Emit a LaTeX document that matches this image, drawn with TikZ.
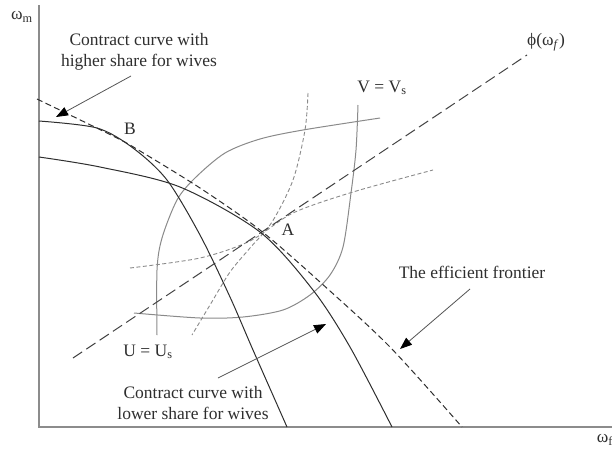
\documentclass[tikz,border=0pt]{standalone}
\usepackage{fontspec}
\setmainfont{Liberation Serif}
\usetikzlibrary{arrows.meta}
\definecolor{ink}{HTML}{2E2E2E}
\definecolor{axisgray}{HTML}{8C8C8C}
\definecolor{curvegray}{HTML}{8A8A8A}
\definecolor{pointergray}{HTML}{555555}
\begin{document}
\begin{tikzpicture}[x=1pt,y=-1pt,
  every node/.style={text=ink,font=\fontsize{17.5}{21}\selectfont,inner sep=0pt},
  axisline/.style={draw=axisgray,line width=1.1pt},
  darkcurve/.style={draw=ink,line width=1pt},
  frontier/.style={draw=ink,line width=1pt,dash pattern=on 6pt off 3.5pt},
  philine/.style={draw=ink!90,line width=1pt,dash pattern=on 11pt off 5pt},
  indiff/.style={draw=curvegray,line width=1pt},
  thindash/.style={draw=curvegray,line width=0.9pt,dash pattern=on 4pt off 2.5pt},
  pointer/.style={draw=pointergray,line width=0.8pt,-{Triangle[length=12pt,width=9pt,color=black]}}
]
\useasboundingbox (0,0) rectangle (612,453);
% axes
\coordinate (ytop) at (39,5);
\coordinate (orig) at (39,427);
\coordinate (xend) at (612,427);
\draw[axisline] (ytop) -- (orig) -- (xend);
% indifference curves
\draw[indiff] plot[smooth] coordinates {(157,335) (157,270) (162,238) (177,200) (195,178) (225,153) (260,139) (303,130) (380,118)};
\draw[indiff] plot[smooth] coordinates {(134,313) (200,318) (243,317) (283,310) (310,295) (330,275) (343,247) (351,193) (356,150) (358,105)};
% thin dashed curves
\draw[thindash] plot[smooth] coordinates {(308,93) (305,130) (293,180) (272,222) (250,248) (230,272) (210,305) (192,335)};
\draw[thindash] plot[smooth] coordinates {(130,268) (200,258) (250,241) (293,213) (353,192) (433,170)};
% phi line
\coordinate (phiA) at (73,358);
\coordinate (phiB) at (527,55);
\draw[philine] (phiA) -- (phiB);
% contract curves (solid)
\draw[darkcurve] plot[smooth] coordinates {(39,121) (97,128) (133,148) (167,180) (200,235) (230,297) (253,350) (287,427)};
\draw[darkcurve] plot[smooth] coordinates {(39,157) (100,167) (180,187) (260,232) (313,290) (350,347) (392,427)};
% efficient frontier
\draw[frontier] plot[smooth] coordinates {(37,99) (115,137) (140,151) (200,188) (260,230) (320,282) (390,347) (462,427)};
% labels
\node (wm) at (22,17) {ω\textsubscript{m}};
\node (wf) at (605,440) {ω\textsubscript{f}};
\node (phi) at (546,42) {ϕ(ω\textsubscript{\textit{f}})};
\node (B) at (130,129) {B};
\node (A) at (288,230) {A};
\node (Vs) at (382,88) {V = V\textsubscript{s}};
\node (Us) at (148,352) {U = U\textsubscript{s}};
\node[align=center] (hi) at (139,52) {Contract curve with\\higher share for wives};
\node[align=center] (lo) at (193,403) {Contract curve with\\lower share for wives};
\node (ef) at (472,272) {The efficient frontier};
% pointers
\coordinate (p1s) at (131,76);
\coordinate (p1e) at (56,117);
\coordinate (p2s) at (218,378);
\coordinate (p2e) at (326,324);
\coordinate (p3s) at (470,289);
\coordinate (p3e) at (400,349);
\draw[pointer] (p1s) -- (p1e);
\draw[pointer] (p2s) -- (p2e);
\draw[pointer] (p3s) -- (p3e);
\end{tikzpicture}
\end{document}
